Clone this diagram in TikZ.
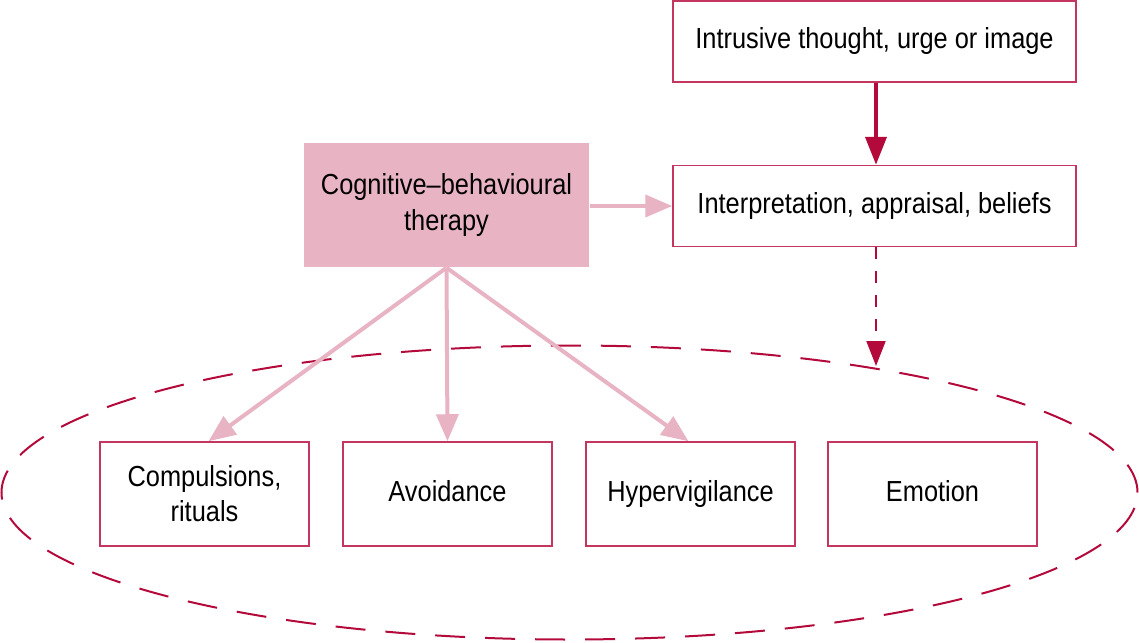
\documentclass[tikz,border=0pt]{standalone}
\usepackage{fontspec}
\setmainfont{Liberation Sans}[FakeStretch=0.875]
\usetikzlibrary{arrows.meta,shapes.geometric}
\definecolor{cbtpink}{HTML}{E8B4C4}
\definecolor{darkcrim}{HTML}{B30A3B}
\definecolor{boxline}{HTML}{C2365F}

\tikzset{
  box/.style={draw=boxline, line width=0.75pt, inner sep=0pt, align=center,
    font=\fontsize{14.5}{17.5}\selectfont},
  oneline/.style={text height=0.74em, text depth=-0.05em},
  topbox/.style={box, oneline, minimum width=201.5pt, minimum height=40.5pt},
  lowbox/.style={box, minimum width=104.5pt, minimum height=52pt},
  pinkarrow/.style={draw=cbtpink, line width=2pt, -{Triangle[length=13.5pt,width=11pt]}},
}

\begin{document}
\begin{tikzpicture}[x=0.5pt,y=-0.5pt]
    \useasboundingbox (0,0) rectangle (1139,642);

    \node[topbox] (Intr) at (874.5,41.5) {Intrusive thought, urge or image};
    \node[topbox] (Interp) at (874.5,206) {Interpretation, appraisal, beliefs};

    \node[box, fill=cbtpink, draw=none, minimum width=142.5pt, minimum height=62pt] (CBT) at (446.5,205) {Cognitive--behavioural\\therapy};

    \node[draw=darkcrim, line width=1pt, dash pattern=on 15pt off 10pt, ellipse, minimum width=568pt, minimum height=147pt] (Ell) at (569.5,492.5) {};

    \node[lowbox] (Comp) at (204.5,494) {Compulsions,\\rituals};
    \node[lowbox, oneline] (Avoi) at (447.5,494) {Avoidance};
    \node[lowbox, oneline] (Hype) at (690.5,494) {Hypervigilance};
    \node[lowbox, oneline] (Emot) at (932.5,494) {Emotion};

    \coordinate (EllTop) at (876,366);

    \draw[-{Triangle[length=14pt,width=10.5pt]},draw=darkcrim,line width=2pt] (Intr.south -| EllTop) to (Interp.north -| EllTop);
    \draw[-{Triangle[length=12.5pt,width=9.5pt]},draw=darkcrim,line width=1pt,dash pattern=on 6pt off 6pt] (Interp.south -| EllTop) to (EllTop);

    \draw[pinkarrow] (CBT.east |- Interp) to (Interp.west);
    \draw[pinkarrow] (CBT.south) to ([xshift=2pt]Comp.north);
    \draw[pinkarrow] (CBT.south) to (Avoi.north);
    \draw[pinkarrow] (CBT.south) to ([xshift=-1pt]Hype.north);

  \end{tikzpicture}
\end{document}
